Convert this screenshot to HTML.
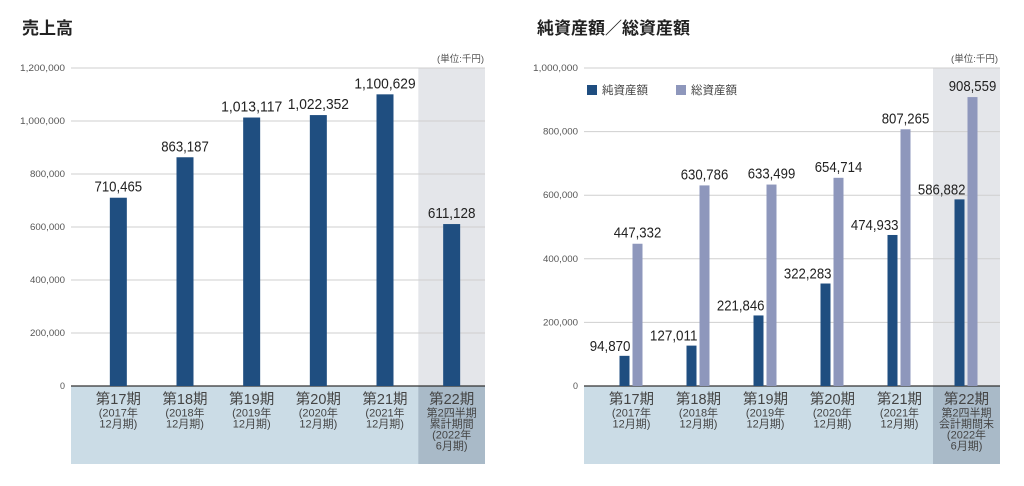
<!DOCTYPE html>
<html><head><meta charset="utf-8">
<style>
html,body{margin:0;padding:0;background:#fff;}
svg{display:block;font-family:"Liberation Sans","Noto Sans CJK JP",sans-serif;}
</style></head>
<body>
<svg id="s" width="1024" height="486" viewBox="0 0 1024 486">
<text x="22" y="34" font-size="17" font-weight="bold" fill="#222">売上高</text>
<text x="537" y="34" font-size="17" font-weight="bold" fill="#222">純資産額／総資産額</text>
<text x="484" y="62" font-size="9.5" fill="#555" text-anchor="end">(単位:千円)</text>
<text x="998" y="62" font-size="9.5" fill="#555" text-anchor="end">(単位:千円)</text>
<g id="left"></g>
<g id="right"></g>
<rect x="587" y="85" width="10" height="10" fill="#1f4e80"/>
<text x="602" y="94" font-size="11.5" fill="#444">純資産額</text>
<rect x="676" y="85" width="10" height="10" fill="#8e97bc"/>
<text x="691" y="94" font-size="11.5" fill="#444">総資産額</text>
</svg>
<script>
const categories = ["第17期","第18期","第19期","第20期","第21期","第22期"];
const subLabelsA = [["(2017年","12月期)"],["(2018年","12月期)"],["(2019年","12月期)"],["(2020年","12月期)"],["(2021年","12月期)"],["第2四半期","累計期間","(2022年","6月期)"]];
const subLabelsB = [["(2017年","12月期)"],["(2018年","12月期)"],["(2019年","12月期)"],["(2020年","12月期)"],["(2021年","12月期)"],["第2四半期","会計期間末","(2022年","6月期)"]];
const salesValues = [710465, 863187, 1013117, 1022352, 1100629, 611128];
const netAssets = [94870, 127011, 221846, 322283, 474933, 586882];
const totalAssets = [447332, 630786, 633499, 654714, 807265, 908559];
const salesTicks = [0,200000,400000,600000,800000,1000000,1200000];
const assetTicks = [0,200000,400000,600000,800000,1000000];

const NS="http://www.w3.org/2000/svg";
function el(tag, attrs, parent, txt){const e=document.createElementNS(NS,tag);for(const k in attrs)e.setAttribute(k,attrs[k]);if(txt!==undefined)e.textContent=txt;parent.appendChild(e);return e;}
const fmt=v=>v.toLocaleString("en-US");

function chart(g, cfg){
  const {x0,x1,slotStart,yTop,yBase,yBottom,max,ticks,subs,prefix}=cfg;
  const slot=(x1-slotStart)/categories.length;
  const y=v=>yBase-(v/max)*(yBase-yTop);
  const cx=i=>slotStart+slot*(i+0.5);
  let r=el('rect',{x:x1-slot,y:yTop,width:slot,height:yBase-yTop,fill:'#e4e6ea'},g);
  
  
  r=el('rect',{x:x0,y:yBase,width:x1-x0,height:yBottom-yBase,fill:'#cbdce6'},g);
  
  
  r=el('rect',{x:x1-slot,y:yBase,width:slot,height:yBottom-yBase,fill:'#a9bac8'},g);
  
  
  ticks.forEach(t=>{
    const l=el('line',{x1:x0,x2:x1,y1:y(t),y2:y(t),stroke:t===0?'#333':'#cfcfcf','stroke-width':t===0?1.2:1},g);
    
    
    const tx=el('text',{x:x0-6,y:y(t)+3,'font-size':9.5,fill:'#555','text-anchor':'end',textLength:fmt(t).length*5,lengthAdjust:'spacingAndGlyphs'},g,fmt(t));
    
    
  });
  categories.forEach((c,i)=>{
    const t=el('text',{x:cx(i),y:yBase+18,'font-size':14.5,fill:'#444','text-anchor':'middle'},g,c);
    
    
    subs[i].forEach((s,j)=>{
      const st=el('text',{x:cx(i),y:yBase+30.5+j*11,'font-size':11,fill:'#444','text-anchor':'middle'},g,s);
      
      
    });
  });
  return {y,cx};
}
function valLabel(g,x,yy,v,anchor,name){
  const s=fmt(v);
  const t=el('text',{x:x,y:yy,'font-size':15,fill:'#222','text-anchor':anchor,textLength:s.length*6.8,lengthAdjust:'spacingAndGlyphs'},g,s);
  
  
}
const L=document.getElementById('left');
const a=chart(L,{x0:71,x1:485,slotStart:85,yTop:68,yBase:386,yBottom:464,max:1200000,ticks:salesTicks,subs:subLabelsA,prefix:'sales'});
salesValues.forEach((v,i)=>{
  const b=el('rect',{x:a.cx(i)-8.5,y:a.y(v),width:17,height:386-a.y(v),fill:'#1f4e80'},L);
  
  
  valLabel(L,a.cx(i),a.y(v)-6,v,'middle','sales-value-label');
});
const R=document.getElementById('right');
const b=chart(R,{x0:584,x1:1000,slotStart:598,yTop:68,yBase:386,yBottom:464,max:1000000,ticks:assetTicks,subs:subLabelsB,prefix:'assets'});
categories.forEach((c,i)=>{
  const n=netAssets[i], t=totalAssets[i];
  const nb=el('rect',{x:b.cx(i)-12,y:b.y(n),width:10,height:386-b.y(n),fill:'#1f4e80'},R);
  
  
  const tb=el('rect',{x:b.cx(i)+1,y:b.y(t),width:10,height:386-b.y(t),fill:'#8e97bc'},R);
  
  
  valLabel(R,b.cx(i)-1,b.y(n)-5,n,'end','net-assets-value-label');
  valLabel(R,b.cx(i)+6,b.y(t)-6,t,'middle','total-assets-value-label');
});
</script>
</body></html>
